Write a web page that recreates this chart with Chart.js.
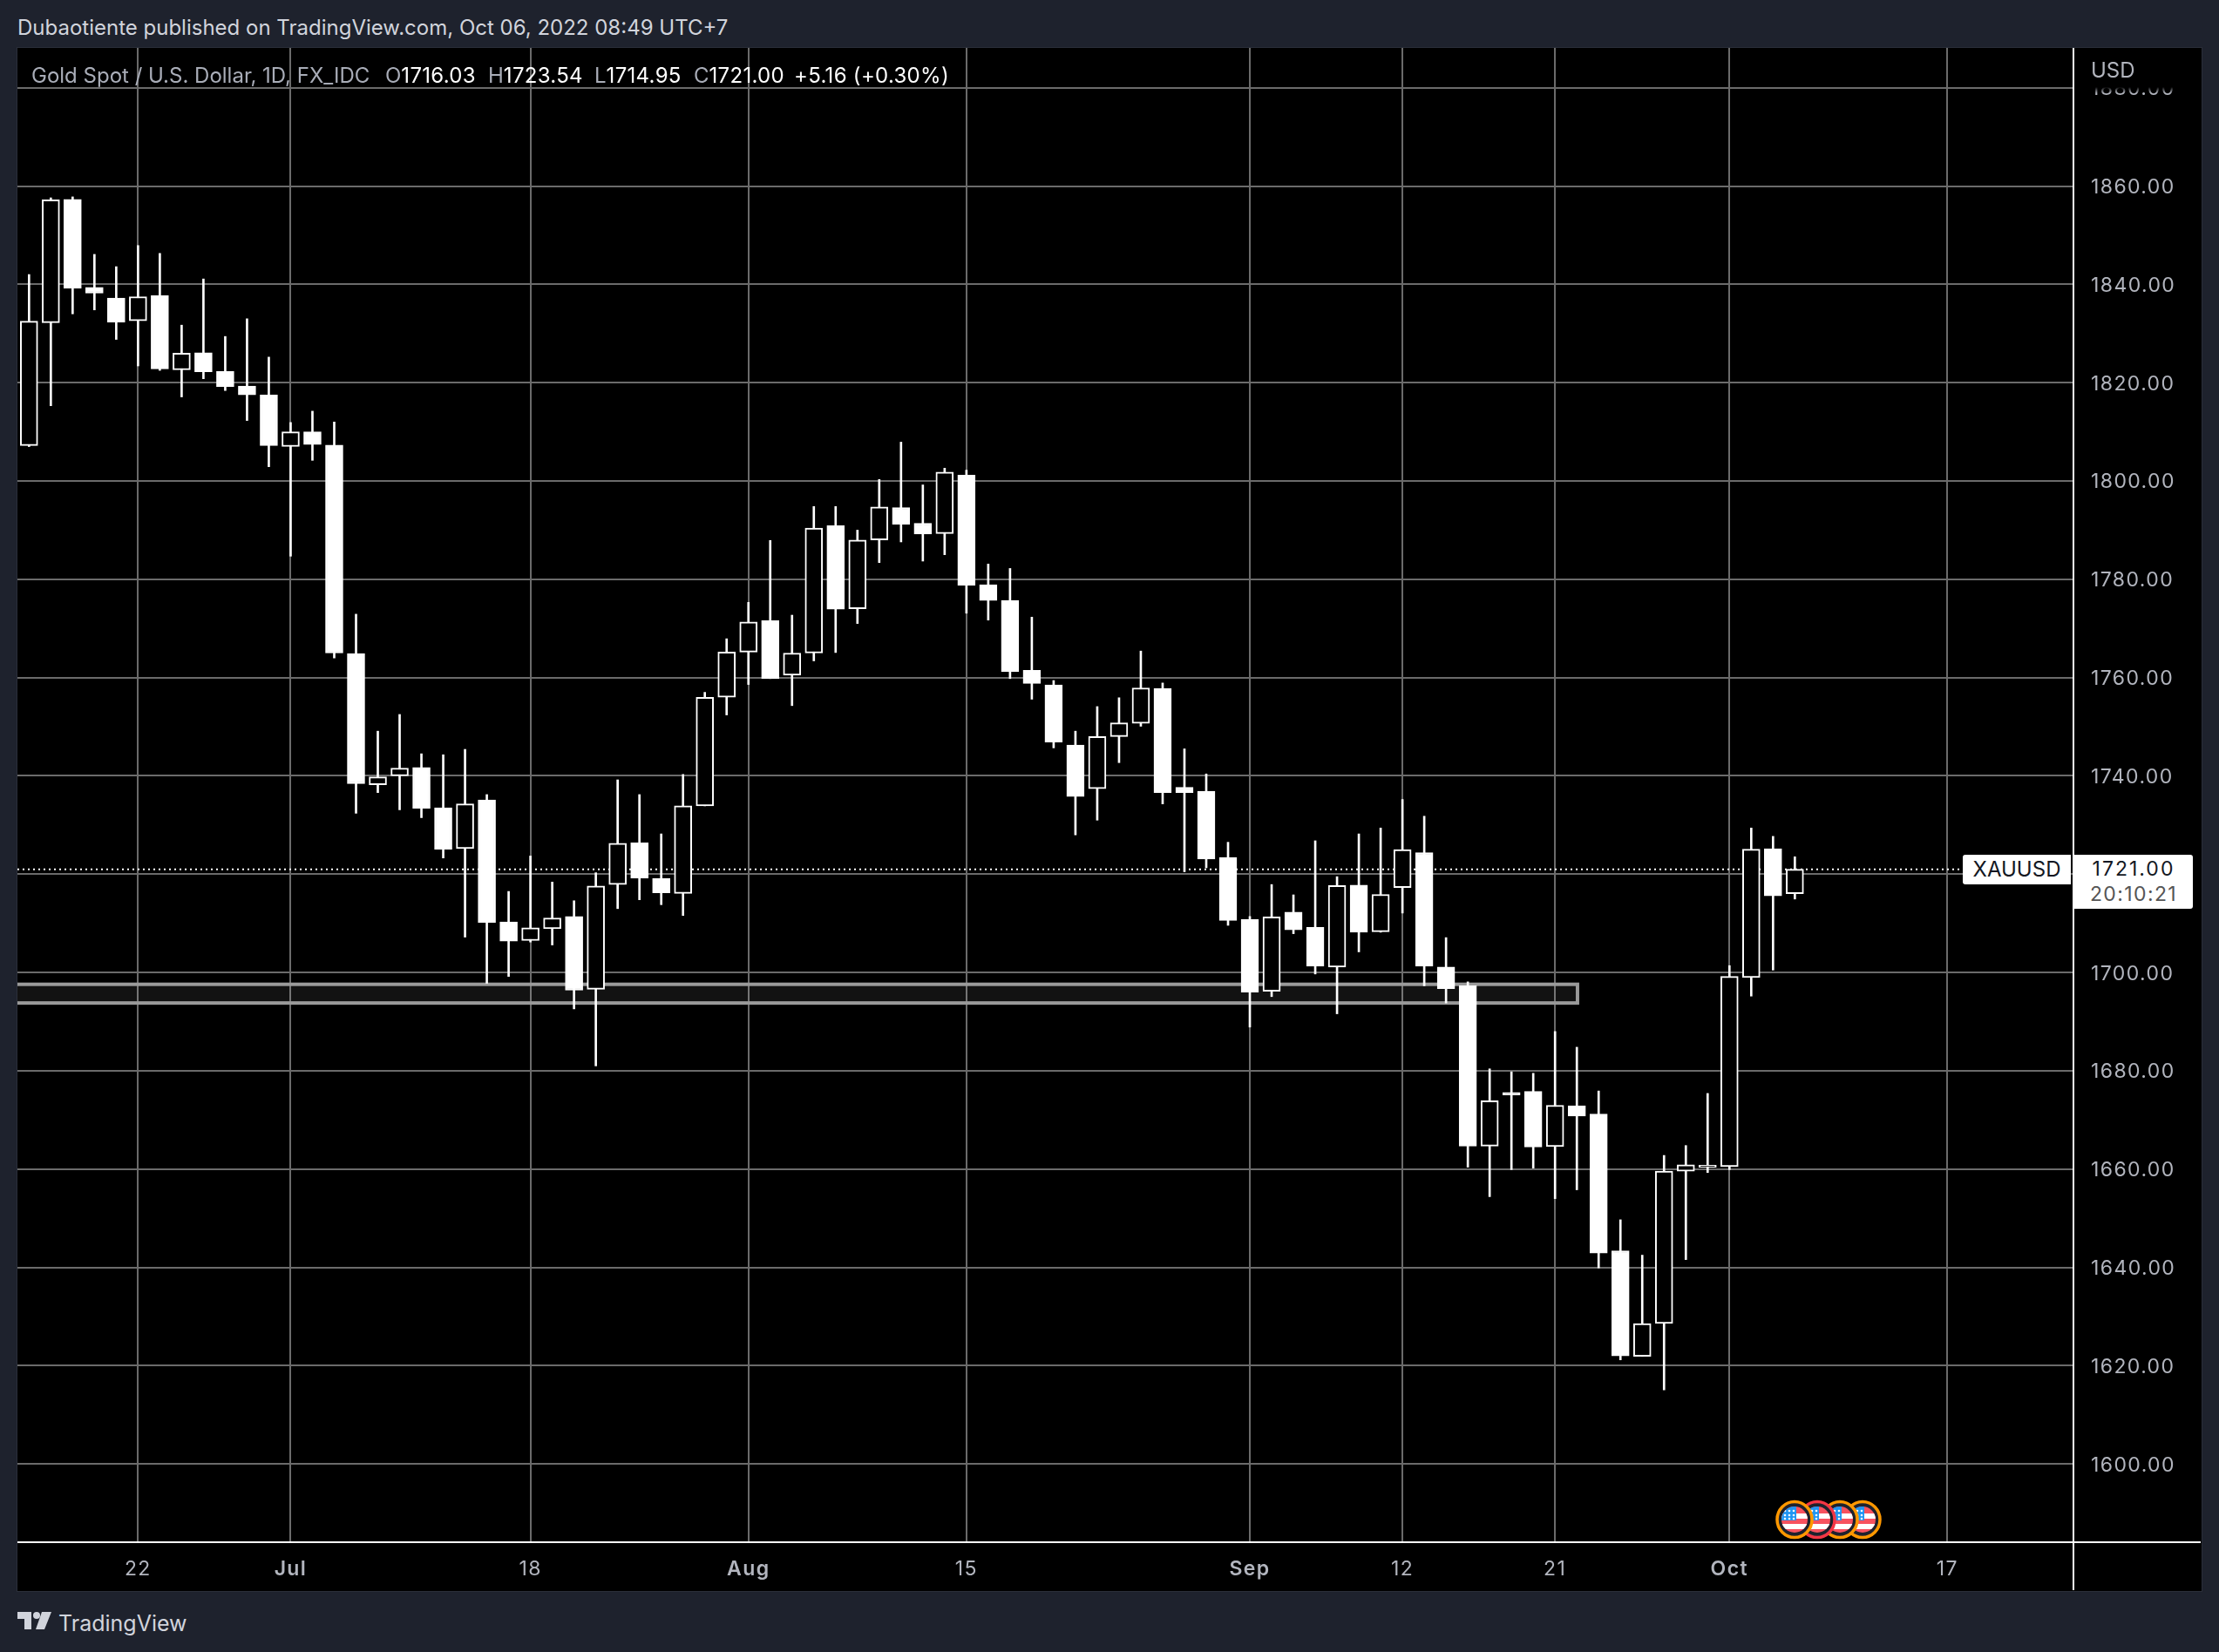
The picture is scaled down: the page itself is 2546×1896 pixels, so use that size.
<!DOCTYPE html>
<html>
<head>
<meta charset="utf-8">
<title>XAUUSD</title>
<script src="https://cdn.jsdelivr.net/npm/chart.js@4"></script>
<style>
    html, body { margin: 0; padding: 0; background: #1e222d; }
    body { position: relative; width: 2546px; height: 1896px; overflow: hidden; font-family: Inter, sans-serif; }
    .abs { position: absolute; white-space: nowrap; }
    #panel { left: 19px; top: 54px; width: 2506px; height: 1771px; background: #000; border: 1px solid #2a2e39; }
    #chartBox { position: absolute; left: 20px; top: 55px; }
    #title { left: 20px; top: 17px; font-size: 24px; line-height: 30px; color: #d1d4dc; }
    .leg { top: 72px; font-size: 24px; line-height: 30px; color: #a9adb8; }
    .leg b { font-weight: 400; color: #fff; letter-spacing: 0.3px; }
    #usdBox { left: 2381px; top: 55px; width: 144px; height: 52px; background: linear-gradient(#000 0, #000 45px, rgba(0,0,0,0) 52px); }
    #usd { left: 2399px; top: 66px; font-size: 24px; line-height: 30px; color: #b2b5be; }
    #symTag { left: 2252px; top: 981px; width: 124px; height: 34px; background: #fff; border-radius: 3px 0 0 3px; color: #131722; font-size: 24px; line-height: 34px; text-align: center; }
    #priceTag { left: 2380px; top: 981px; width: 136px; height: 62px; background: #fff; border-radius: 0 3px 3px 0; color: #131722; font-size: 23px; line-height: 29px; letter-spacing: 2px; text-align: center; padding-top: 2px; box-sizing: border-box; }
    #priceTag span { color: #555; display: block; letter-spacing: 1.4px; }
    #vLine { left: 2378px; top: 1770px; width: 2px; height: 55px; background: #fff; }
    #hLine { left: 2380px; top: 1769px; width: 145px; height: 2px; background: #fff; }
    #logoText { left: 67px; top: 1845px; font-size: 25px; line-height: 36px; color: #d1d4dc; }
</style>
</head>
<body>
<div class="abs" id="panel"></div>
<div id="chartBox"><canvas id="goldChart" width="2505" height="1770"></canvas></div>

<div class="abs" id="title">Dubaotiente published on TradingView.com, Oct 06, 2022 08:49 UTC+7</div>
<div class="abs leg" style="left:36px">Gold Spot / U.S. Dollar, 1D, FX_IDC</div>
<div class="abs leg" style="left:442px">O<b>1716.03</b></div>
<div class="abs leg" style="left:560px">H<b>1723.54</b></div>
<div class="abs leg" style="left:682px">L<b>1714.95</b></div>
<div class="abs leg" style="left:796px">C<b>1721.00</b></div>
<div class="abs leg" style="left:911px"><b>+5.16 (+0.30%)</b></div>

<div class="abs" id="usdBox"></div>
<div class="abs" id="usd">USD</div>
<div class="abs" id="symTag">XAUUSD</div>
<div class="abs" id="priceTag">1721.00<span>20:10:21</span></div>
<div class="abs" id="vLine"></div>
<div class="abs" id="hLine"></div>

<!-- calendar event flags -->
<svg class="abs" style="left:2030px;top:1715px" width="140" height="58" viewBox="0 0 140 58">
    <defs>
        <clipPath id="flagClip"><circle cx="0" cy="0" r="15"></circle></clipPath>
        <g id="flag">
            <g clip-path="url(#flagClip)">
                <rect x="-16" y="-16" width="32" height="32" fill="#f7525f"></rect>
                <rect x="-16" y="-7" width="32" height="6" fill="#fff"></rect>
                <rect x="-16" y="5" width="32" height="6" fill="#fff"></rect>
                <rect x="-16" y="-16" width="18" height="17" fill="#2196f3"></rect>
                <circle cx="-11" cy="-10" r="1.3" fill="#fff"></circle><circle cx="-6" cy="-10" r="1.3" fill="#fff"></circle><circle cx="-1" cy="-10" r="1.3" fill="#fff"></circle>
                <circle cx="-11" cy="-5" r="1.3" fill="#fff"></circle><circle cx="-6" cy="-5" r="1.3" fill="#fff"></circle><circle cx="-1" cy="-5" r="1.3" fill="#fff"></circle>
                <circle cx="-11" cy="-1" r="1.3" fill="#fff"></circle><circle cx="-6" cy="-1" r="1.3" fill="#fff"></circle><circle cx="-1" cy="-1" r="1.3" fill="#fff"></circle>
            </g>
        </g>
    </defs>
    <g transform="translate(107,29)"><ellipse rx="20" ry="20.5" fill="#1e222d" stroke="#ff9800" stroke-width="3.5"></ellipse><use href="#flag"></use></g>
    <g transform="translate(81,29)"><ellipse rx="20" ry="20.5" fill="#1e222d" stroke="#ff9800" stroke-width="3.5"></ellipse><use href="#flag"></use></g>
    <g transform="translate(55,29)"><ellipse rx="20" ry="20.5" fill="#1e222d" stroke="#f23645" stroke-width="3.5"></ellipse><use href="#flag"></use></g>
    <g transform="translate(29,29)"><ellipse rx="20" ry="20.5" fill="#1e222d" stroke="#ff9800" stroke-width="3.5"></ellipse><use href="#flag"></use></g>
</svg>

<!-- logo -->
<svg class="abs" style="left:20px;top:1850px" width="40" height="20" viewBox="0 0 40 20">
    <path d="M0 0H16V20H8V8H0Z" fill="#d1d4dc"></path>
    <circle cx="22" cy="4" r="4" fill="#d1d4dc"></circle>
    <path d="M28 0H39L31 20H21Z" fill="#d1d4dc"></path>
</svg>
<div class="abs" id="logoText">TradingView</div>

<script>
// daily candles, 15 Jun - 6 Oct 2022
const opens = [
    1807.2, 1832.2, 1857.3, 1839.4, 1837.2, 1832.6, 1837.7, 1822.6, 1826.1, 1822.3,
    1819.3, 1817.5, 1807.0, 1810.0, 1807.3, 1764.9, 1738.2, 1740.0, 1741.7, 1733.5,
    1725.2, 1735.1, 1710.3, 1706.5, 1708.9, 1711.4, 1696.6, 1717.9, 1726.4, 1719.1,
    1716.1, 1733.9, 1756.0, 1765.2, 1771.6, 1760.5, 1765.0, 1790.9, 1774.0, 1788.0,
    1794.6, 1791.4, 1789.3, 1801.2, 1778.9, 1775.7, 1761.5, 1758.5, 1746.3, 1737.4,
    1748.0, 1750.7, 1757.8, 1737.7, 1736.9, 1723.4, 1710.8, 1696.2, 1712.3, 1709.2,
    1701.1, 1717.8, 1708.3, 1717.3, 1724.4, 1701.1, 1697.3, 1664.7, 1675.6, 1675.8,
    1664.6, 1672.9, 1671.2, 1643.4, 1621.9, 1628.6, 1659.6, 1660.4, 1660.5, 1699.0,
    1725.2, 1716.03
];
const highs = [
    1842.0, 1857.6, 1857.8, 1846.1, 1843.6, 1847.9, 1846.3, 1831.7, 1841.1, 1829.4,
    1833.0, 1825.2, 1811.9, 1814.2, 1812.0, 1772.9, 1749.1, 1752.5, 1744.5, 1744.3,
    1745.4, 1736.2, 1716.5, 1723.7, 1718.4, 1714.6, 1720.3, 1739.2, 1736.2, 1728.2,
    1740.3, 1757.0, 1767.9, 1775.3, 1787.9, 1772.7, 1794.8, 1794.8, 1790.0, 1800.3,
    1807.9, 1799.2, 1802.6, 1802.2, 1783.1, 1782.2, 1772.3, 1759.4, 1749.1, 1754.1,
    1755.9, 1765.4, 1758.9, 1745.5, 1740.4, 1726.5, 1711.4, 1717.9, 1715.8, 1726.8,
    1719.5, 1728.2, 1729.4, 1735.2, 1731.8, 1707.1, 1698.1, 1680.4, 1679.8, 1679.5,
    1688.0, 1684.8, 1675.9, 1649.7, 1642.5, 1662.8, 1664.8, 1675.4, 1701.4, 1729.4,
    1727.7, 1723.54
];
const lows = [
    1807.0, 1815.3, 1834.0, 1834.8, 1828.8, 1823.4, 1822.5, 1817.1, 1820.8, 1818.4,
    1812.3, 1802.9, 1784.7, 1804.2, 1764.0, 1732.4, 1736.6, 1733.1, 1731.5, 1723.3,
    1707.2, 1697.8, 1699.2, 1706.2, 1705.6, 1692.6, 1681.0, 1713.0, 1714.8, 1713.8,
    1711.6, 1733.9, 1752.4, 1758.6, 1759.8, 1754.3, 1763.4, 1765.1, 1771.0, 1783.4,
    1787.6, 1783.7, 1785.0, 1773.1, 1771.7, 1759.8, 1755.6, 1745.7, 1728.0, 1731.0,
    1742.7, 1750.1, 1734.3, 1720.5, 1721.3, 1709.6, 1688.9, 1695.1, 1707.9, 1699.7,
    1691.6, 1704.2, 1708.2, 1712.1, 1697.3, 1693.8, 1660.4, 1654.4, 1659.9, 1660.2,
    1654.0, 1655.8, 1639.9, 1621.2, 1621.9, 1615.1, 1641.6, 1659.3, 1659.9, 1695.2,
    1700.5, 1714.95
];
const closes = [
    1832.5, 1857.2, 1839.2, 1838.2, 1832.3, 1837.5, 1822.8, 1826.0, 1822.2, 1819.2,
    1817.5, 1807.2, 1810.0, 1807.4, 1765.0, 1738.4, 1739.8, 1741.6, 1733.4, 1725.1,
    1734.3, 1710.2, 1706.4, 1709.1, 1711.1, 1696.4, 1717.6, 1726.3, 1719.2, 1716.2,
    1733.9, 1756.0, 1765.2, 1771.3, 1759.8, 1765.0, 1790.4, 1773.9, 1788.0, 1794.7,
    1791.2, 1789.2, 1801.8, 1778.8, 1775.7, 1761.2, 1758.8, 1746.9, 1735.8, 1748.0,
    1750.8, 1757.9, 1736.6, 1736.6, 1723.1, 1710.6, 1696.0, 1711.3, 1708.7, 1701.3,
    1717.7, 1708.2, 1715.9, 1725.0, 1701.3, 1696.7, 1664.7, 1673.9, 1675.1, 1664.5,
    1673.0, 1670.8, 1642.9, 1622.0, 1628.6, 1659.6, 1660.9, 1660.8, 1699.2, 1725.1,
    1715.6, 1721.00
];

const xTickValues = [5, 12, 23, 33, 43, 56, 63, 70, 78, 88];
const xTickLabels = ["22", "Jul", "18", "Aug", "15", "Sep", "12", "21", "Oct", "17"];
const boldLabels = ["Jul", "Aug", "Sep", "Oct"];

const lastPrice = 1721.00;
const zoneTop = 1697.6;
const zoneBottom = 1693.8;
const zoneEnd = 71.03;

const xMin = -0.532, xMax = 93.78;
const yMin = 1584.1, yMax = 1888.1;

const wicks = highs.map((h, i) => ({ x: i, y: [lows[i], h] }));
const bodies = opens.map((o, i) => ({ x: i, y: [Math.min(o, closes[i]), Math.max(o, closes[i])] }));
const bodyFill = opens.map((o, i) => (closes[i] >= o ? "#000000" : "#ffffff"));

// support zone behind the candles, right edge stops at zoneEnd, left runs off the chart
const zonePlugin = {
    id: "zone",
    beforeDraw(chart) {
        chart.ctx.letterSpacing = "1.4px";
        // price labels sit a touch lower than the canvas middle baseline
        chart.scales.y.getLabelItems().forEach((item) => {
            if (!item.nudged) {
                item.options.translation[1] += 1.5;
                item.nudged = true;
            }
        });
    },
    beforeDatasetsDraw(chart) {
        const { ctx, scales, chartArea } = chart;
        const x0 = chartArea.left - 5;
        const x1 = scales.x.getPixelForValue(zoneEnd);
        const y0 = scales.y.getPixelForValue(zoneTop);
        const y1 = scales.y.getPixelForValue(zoneBottom);
        ctx.save();
        ctx.beginPath();
        ctx.rect(chartArea.left, chartArea.top, chartArea.width, chartArea.height);
        ctx.clip();
        ctx.fillStyle = "rgba(255,255,255,0.07)";
        ctx.fillRect(x0, y0, x1 - x0, y1 - y0);
        ctx.strokeStyle = "#9a9a9a";
        ctx.lineWidth = 4;
        ctx.strokeRect(x0, y0, x1 - x0, y1 - y0);
        ctx.restore();
    },
};

new Chart(document.getElementById("goldChart"), {
    type: "bar",
    data: {
        datasets: [
            {
                type: "line",
                data: [{ x: xMin, y: lastPrice }, { x: 89.66, y: lastPrice }],
                borderColor: "#ffffff",
                borderWidth: 2,
                borderDash: [2, 4],
                pointRadius: 0,
                order: 3,
            },
            {
                data: wicks,
                backgroundColor: "#ffffff",
                borderWidth: 0,
                barThickness: 2,
                grouped: false,
                order: 2,
            },
            {
                data: bodies,
                backgroundColor: bodyFill,
                borderColor: "#ffffff",
                borderWidth: 2,
                borderSkipped: false,
                barThickness: 20,
                grouped: false,
                order: 1,
            },
        ],
    },
    options: {
        responsive: false,
        animation: false,
        devicePixelRatio: 1,
        layout: { padding: 0 },
        plugins: {
            legend: { display: false },
            tooltip: { enabled: false },
        },
        scales: {
            x: {
                type: "linear",
                min: xMin,
                max: xMax,
                offset: false,
                afterBuildTicks: (scale) => {
                    scale.ticks = xTickValues.map((v) => ({ value: v }));
                },
                afterFit: (scale) => {
                    scale.height = 55;
                    scale.paddingLeft = 0;
                    scale.paddingRight = 0;
                },
                grid: { color: "#6b6b6b", lineWidth: 2, drawTicks: false, offset: false },
                border: { color: "#ffffff", width: 2 },
                ticks: {
                    autoSkip: false,
                    maxRotation: 0,
                    padding: 17,
                    color: "#b2b5be",
                    font: (ctx) => {
                        const label = xTickLabels[xTickValues.indexOf(ctx.tick ? ctx.tick.value : -1)];
                        return {
                            family: "Inter",
                            size: 23,
                            weight: boldLabels.includes(label) ? "600" : "400",
                        };
                    },
                    callback: (v) => xTickLabels[xTickValues.indexOf(v)],
                },
            },
            y: {
                position: "right",
                min: yMin,
                max: yMax,
                afterFit: (scale) => {
                    scale.width = 146;
                    scale.paddingTop = 0;
                    scale.paddingBottom = 0;
                },
                grid: { color: "#6b6b6b", lineWidth: 2, drawTicks: false },
                border: { color: "#ffffff", width: 2 },
                ticks: {
                    stepSize: 20,
                    includeBounds: false,
                    padding: 20,
                    color: "#b2b5be",
                    font: { family: "Inter", size: 23 },
                    callback: (v) => v.toFixed(2),
                },
            },
        },
    },
    plugins: [zonePlugin],
});
</script>
</body>
</html>
